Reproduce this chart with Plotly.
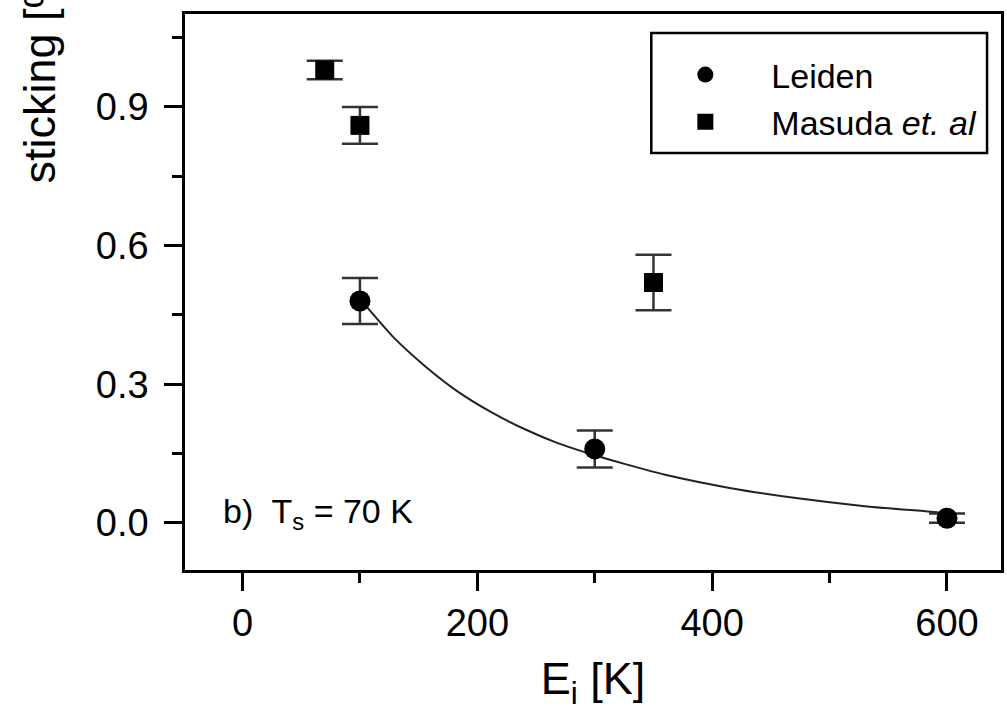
import plotly.graph_objects as go

# Leiden data
leiden_x = [100, 300, 600]
leiden_y = [0.48, 0.16, 0.01]
leiden_err = [0.05, 0.04, 0.01]

# Masuda et al. data
masuda_x = [70, 100, 350]
masuda_y = [0.98, 0.86, 0.52]
masuda_err = [0.02, 0.04, 0.06]

# fitted curve
fit_x = [100, 108, 128, 156, 184, 213, 241, 269, 298, 326, 360, 416, 473, 530, 586, 598]
fit_y = [0.485, 0.461, 0.403, 0.338, 0.283, 0.238, 0.202, 0.172, 0.148, 0.127, 0.104, 0.075, 0.053, 0.036, 0.024, 0.021]

x_ticks = [0, 200, 400, 600]
y_ticks = [0.0, 0.3, 0.6, 0.9]

FONT = "Liberation Sans, Arial, Helvetica, sans-serif"

L, R, T, B = 185, 3, 14, 147
W, H = 1007, 717
pw = W - L - R
ph = H - T - B


def px_x(p):
    return (p - L) / pw


def px_y(p):
    return 1 - (p - T) / ph


fig = go.Figure()

fig.add_trace(go.Scatter(
    x=fit_x, y=fit_y, mode="lines", line=dict(color="#222", width=2, shape="spline", smoothing=0.8),
    showlegend=False, hoverinfo="skip"))

fig.add_trace(go.Scatter(
    x=leiden_x, y=leiden_y, mode="markers", name="Leiden",
    marker=dict(symbol="circle", size=21, color="black"),
    error_y=dict(type="data", array=leiden_err, color="#333", thickness=2.5, width=18)))

fig.add_trace(go.Scatter(
    x=masuda_x, y=masuda_y, mode="markers", name="Masuda <i>et. al</i>",
    marker=dict(symbol="square", size=19, color="black"),
    error_y=dict(type="data", array=masuda_err, color="#333", thickness=2.5, width=18)))

fig.add_annotation(
    x=-18, y=0.020, xref="x", yref="y", xanchor="left", yanchor="middle",
    text="b)  T<sub>s</sub> = 70 K", showarrow=False,
    font=dict(family=FONT, size=34, color="black"))

fig.add_annotation(
    x=px_x(38), y=px_y(186), xref="paper", yref="paper",
    xanchor="center", yanchor="bottom", textangle=-90,
    text="sticking [%]", showarrow=False,
    font=dict(family=FONT, size=45, color="black"))

# legend frame
fig.add_shape(type="rect", xref="paper", yref="paper",
              x0=px_x(653), x1=px_x(990), y0=px_y(153), y1=px_y(33),
              line=dict(color="black", width=2.5), fillcolor="rgba(0,0,0,0)", layer="above")

fig.update_layout(
    width=W, height=H,
    margin=dict(l=L, r=R, t=T, b=B),
    paper_bgcolor="white", plot_bgcolor="white",
    font=dict(family=FONT, color="black"),
    showlegend=True,
    legend=dict(
        x=px_x(641), y=px_y(46), xanchor="left", yanchor="top",
        bgcolor="rgba(0,0,0,0)", borderwidth=0,
        font=dict(family=FONT, size=34, color="black"),
        itemwidth=122, tracegroupgap=0),
    xaxis=dict(
        range=[-49, 646], tickvals=x_ticks, ticktext=[str(v) for v in x_ticks],
        ticks="outside", ticklen=18, tickwidth=2.5, tickcolor="black",
        showline=True, linewidth=2.5, linecolor="black", mirror=True,
        showgrid=False, zeroline=False,
        tickfont=dict(family=FONT, size=38, color="black"),
        minor=dict(tickvals=[-100, 100, 300, 500], ticks="outside", ticklen=10, tickwidth=2.5, tickcolor="black"),
        title=dict(text="E<sub>i</sub> [K]", font=dict(family=FONT, size=45, color="black"), standoff=20)),
    yaxis=dict(
        range=[-0.102, 1.101], tickvals=y_ticks, ticktext=["0.0", "0.3", "0.6", "0.9"],
        ticks="outside", ticklen=18, tickwidth=2.5, tickcolor="black",
        showline=True, linewidth=2.5, linecolor="black", mirror=True,
        showgrid=False, zeroline=False,
        tickfont=dict(family=FONT, size=38, color="black"),
        ticklabelstandoff=8,
        minor=dict(tickvals=[-0.15, 0.15, 0.45, 0.75, 1.05], ticks="outside", ticklen=10, tickwidth=2.5, tickcolor="black")),
)

fig.write_html("out.html")
